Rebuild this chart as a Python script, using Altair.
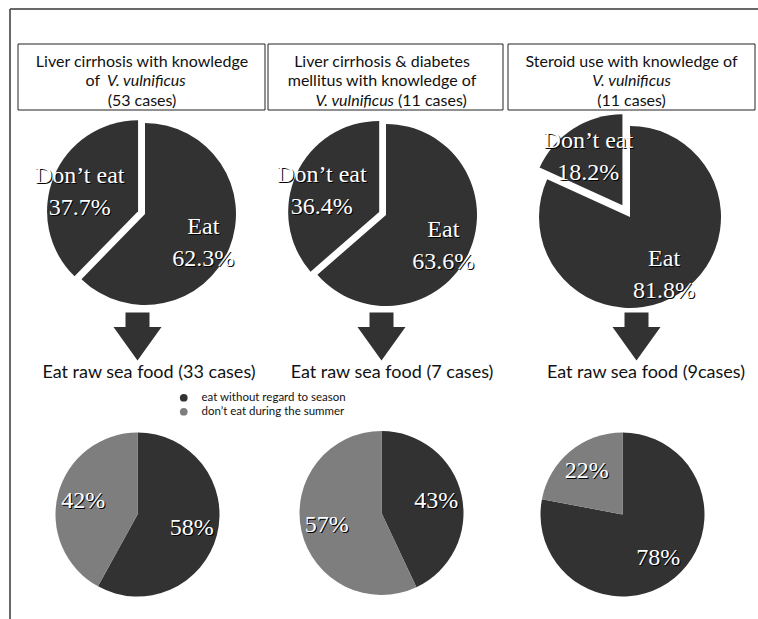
import math
import altair as alt
import pandas as pd

# ---------------- data ----------------
groups = ["Liver cirrhosis", "Liver cirrhosis & diabetes mellitus", "Steroid use"]
top_categories = ["Eat", "Don\u2019t eat"]
top_eat = [62.3, 63.6, 81.8]
top_dont_eat = [37.7, 36.4, 18.2]
raw_labels = ["Eat raw sea food (33 cases)", "Eat raw sea food (7 cases)", "Eat raw sea food (9cases)"]
bottom_categories = ["eat without regard to season", "don\u2019t eat during the summer"]
bottom_without_regard = [58, 43, 78]
bottom_not_summer = [42, 57, 22]

# title segments: (group index, line, text, italic, align)
title_segments = [
    (0, 0, "Liver cirrhosis with knowledge", False, "center"),
    (0, 1, "of", False, "right"),
    (0, 1, "V. vulnificus", True, "left"),
    (0, 2, "(53 cases)", False, "center"),
    (1, 0, "Liver cirrhosis & diabetes", False, "center"),
    (1, 1, "mellitus with knowledge of", False, "center"),
    (1, 2, "V. vulnificus", True, "right"),
    (1, 2, "(11 cases)", False, "left"),
    (2, 0, "Steroid use with knowledge of", False, "center"),
    (2, 1, "V. vulnificus", True, "center"),
    (2, 2, "(11 cases)", False, "center"),
]

# ---------------- layout / style ----------------
W, H = 758, 619
DARK = "#323232"
LIGHT = "#7e7e7e"
SANS = "Lato"
SERIF = "Liberation Serif"

box_x0 = [18, 268, 508]
box_x1 = [265, 503, 755]
box_y0, box_y1 = 44, 110
title_cx = [142, 382, 631.5]
title_line_y = [61.5, 81, 100.5]
title_split = {0: (100, 107), 1: (394, 398)}  # (right edge of left part, left edge of right part)

top_cx = [145, 386, 630]
top_cy = [214, 215, 217]
top_r = 91
explode = [7.5, 7.5, 14]
top_label_r = 63

arrow_x = [137.5, 381.5, 636.5]
arrow_y = 336.5
raw_x = [149, 392, 646]
raw_y = 373

bot_cx = [137.5, 381.5, 622.5]
bot_cy = [514.5, 513, 514.5]
bot_r = 82
bot_label_r = 56

# ---------------- tables ----------------
top_rows = []
for i in range(3):
    start = 0.0
    for cat, val, off in ((top_categories[0], top_eat[i], 0.0),
                          (top_categories[1], top_dont_eat[i], explode[i])):
        top_rows.append(dict(group=groups[i], cat=cat, value=val, start=start,
                             end=start + val, cx=top_cx[i], cy=top_cy[i], off=off))
        start += val
top_df = pd.DataFrame(top_rows)

bot_rows = []
for i in range(3):
    start = 0.0
    for cat, val in ((bottom_categories[0], bottom_without_regard[i]),
                     (bottom_categories[1], bottom_not_summer[i])):
        bot_rows.append(dict(group=groups[i], cat=cat, value=val, start=start,
                             end=start + val, cx=bot_cx[i], cy=bot_cy[i], off=0.0))
        start += val
bot_df = pd.DataFrame(bot_rows)

title_rows = []
for g, line, txt, ital, align in title_segments:
    if align == "center":
        x = title_cx[g]
    elif align == "right":
        x = title_split[g][0]
    else:
        x = title_split[g][1]
    title_rows.append(dict(text=txt, x=x, y=title_line_y[line],
                           style="italic" if ital else "normal", align=align))
title_df = pd.DataFrame(title_rows)

box_df = pd.DataFrame(dict(group=groups, x0=box_x0, x1=box_x1))
arrow_df = pd.DataFrame(dict(group=groups, x=arrow_x))
raw_df = pd.DataFrame(dict(group=groups, text=raw_labels, x=raw_x))

theta_scale = alt.Scale(domain=[0, 100], range=[0, 2 * math.pi])
X = lambda f: alt.X(f, scale=None, axis=None)
Y = lambda f: alt.Y(f, scale=None, axis=None)

# ---------------- frame ----------------
frame_top = alt.Chart(box_df).mark_rule(color="#555555", strokeWidth=1).encode(
    x=alt.value(10), x2=alt.value(W), y=alt.value(9))
frame_left = alt.Chart(box_df).mark_rule(color="#555555", strokeWidth=1).encode(
    x=alt.value(10), y=alt.value(9), y2=alt.value(H))

boxes = alt.Chart(box_df).mark_rect(fill="white", stroke="#222222", strokeWidth=1).encode(
    x=X("x0:Q"), x2="x1:Q", y=alt.value(box_y0), y2=alt.value(box_y1))

title_layers = []
for style in ("normal", "italic"):
    for align in ("center", "left", "right"):
        sub = title_df[(title_df["style"] == style) & (title_df["align"] == align)]
        if len(sub) == 0:
            continue
        title_layers.append(
            alt.Chart(sub).mark_text(font=SANS, fontSize=16, fontStyle=style, align=align,
                                     baseline="middle", color="#111111").encode(
                x=X("x:Q"), y=Y("y:Q"), text="text:N"))

# ---------------- top pies ----------------
geo = dict(
    mid="(datum.start + datum.end) * PI / 100",
    px="datum.cx + datum.off * sin(datum.mid)",
    py="datum.cy - datum.off * cos(datum.mid)",
)

top_arcs = alt.Chart(top_df).transform_calculate(**geo).mark_arc(
    radius=top_r, fill=DARK).encode(
    x=X("px:Q"), y=Y("py:Q"),
    theta=alt.Theta("start:Q", scale=theta_scale, stack=False), theta2="end:Q")

top_lab_calc = dict(
    mid="(datum.start + datum.end) * PI / 100",
    lx="datum.cx + (datum.off + %s) * sin(datum.mid)" % top_label_r,
    ly="datum.cy - (datum.off + %s) * cos(datum.mid)" % top_label_r,
    txt="datum.cat + '\\n' + format(datum.value, '.1f') + '%'",
)
top_shadow = alt.Chart(top_df).transform_calculate(**top_lab_calc).mark_text(
    font=SERIF, fontSize=24, lineBreak="\n", lineHeight=32, baseline="middle",
    fill="black", dx=1, dy=-10).encode(x=X("lx:Q"), y=Y("ly:Q"), text="txt:N")
top_labels = alt.Chart(top_df).transform_calculate(**top_lab_calc).mark_text(
    font=SERIF, fontSize=24, lineBreak="\n", lineHeight=32, baseline="middle",
    fill="white", dy=-11).encode(x=X("lx:Q"), y=Y("ly:Q"), text="txt:N")

# ---------------- arrows + captions ----------------
ARROW = "M-0.5,-1 L0.5,-1 L0.5,-0.4 L1,-0.4 L0,1 L-1,-0.4 L-0.5,-0.4 Z"
arrows = alt.Chart(arrow_df).mark_point(shape=ARROW, filled=True, fill=DARK, opacity=1,
                                        strokeWidth=0, size=48 * 48).encode(
    x=X("x:Q"), y=alt.value(arrow_y))

captions = alt.Chart(raw_df).mark_text(font=SANS, fontSize=18, baseline="middle",
                                       color="#111111").encode(
    x=X("x:Q"), y=alt.value(raw_y), text="text:N")

# ---------------- bottom pies ----------------
bot_arcs = alt.Chart(bot_df).transform_calculate(**geo).mark_arc(radius=bot_r).encode(
    x=X("px:Q"), y=Y("py:Q"),
    theta=alt.Theta("start:Q", scale=theta_scale, stack=False), theta2="end:Q",
    color=alt.Color("cat:N", scale=alt.Scale(domain=bottom_categories, range=[DARK, LIGHT]),
                    legend=alt.Legend(orient="none", legendX=178, legendY=392, title=None,
                                      symbolType="circle", symbolSize=60, symbolStrokeWidth=0,
                                      labelFont=SANS, labelFontSize=11.5, labelColor="#111111",
                                      labelLimit=300, rowPadding=1, labelOffset=12,
                                      padding=0)))

bot_lab_calc = dict(
    mid="(datum.start + datum.end) * PI / 100",
    lx="datum.cx + %s * sin(datum.mid)" % bot_label_r,
    ly="datum.cy - %s * cos(datum.mid)" % bot_label_r,
    txt="format(datum.value, 'd') + '%'",
)
bot_shadow = alt.Chart(bot_df).transform_calculate(**bot_lab_calc).mark_text(
    font=SERIF, fontSize=24, baseline="middle", fill="black", dx=1, dy=1).encode(
    x=X("lx:Q"), y=Y("ly:Q"), text="txt:N")
bot_labels = alt.Chart(bot_df).transform_calculate(**bot_lab_calc).mark_text(
    font=SERIF, fontSize=24, baseline="middle", fill="white").encode(
    x=X("lx:Q"), y=Y("ly:Q"), text="txt:N")

chart = alt.layer(
    frame_top, frame_left, boxes, *title_layers,
    top_arcs, top_shadow, top_labels,
    arrows, captions,
    bot_arcs, bot_shadow, bot_labels,
).properties(
    width=W, height=H, padding=0, autosize=alt.AutoSizeParams(type="none"),
    background="white",
).configure_view(stroke=None)

chart.save("out.html", embed_options={"renderer": "svg", "actions": False})
